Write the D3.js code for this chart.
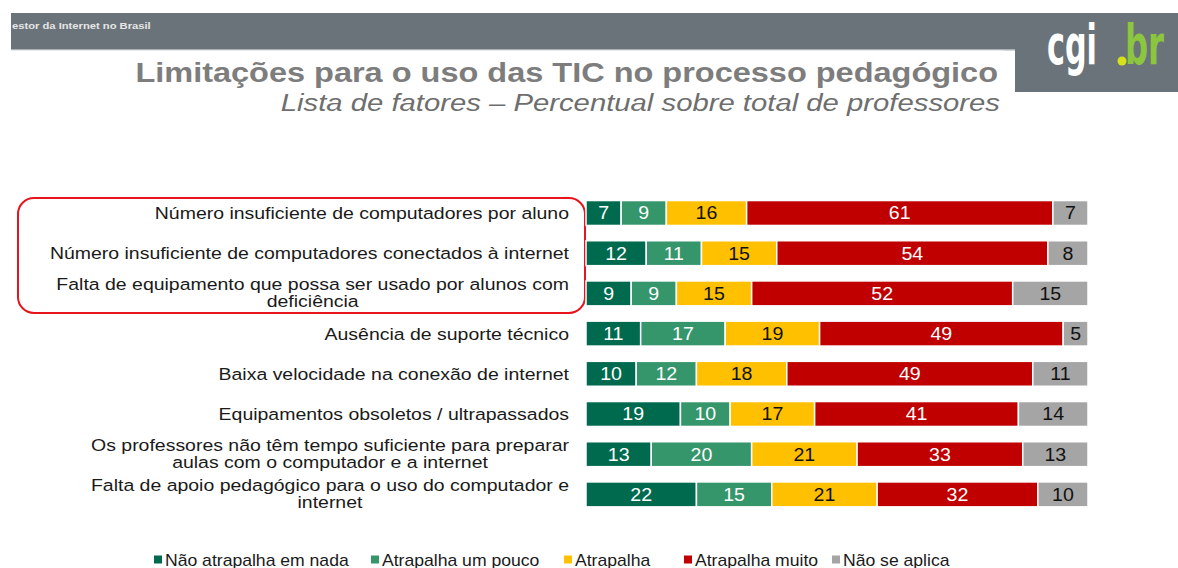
<!DOCTYPE html>
<html>
<head>
<meta charset="utf-8">
<script src="https://cdn.jsdelivr.net/npm/d3@7"></script>
<style>
  body { margin: 0; background: #fff; }
  svg { display: block; font-family: "Liberation Sans", Arial, sans-serif; }
</style>
</head>
<body>
<div id="chart-container"></div>
<script>
// data
const categories = [
  "Número insuficiente de computadores por aluno",
  "Número insuficiente de computadores conectados à internet",
  "Falta de equipamento que possa ser usado por alunos com\ndeficiência",
  "Ausência de suporte técnico",
  "Baixa velocidade na conexão de internet",
  "Equipamentos obsoletos / ultrapassados",
  "Os professores não têm tempo suficiente para preparar\naulas com o computador e a internet",
  "Falta de apoio pedagógico para o uso do computador e\ninternet"
]
const seriesNames = ["Não atrapalha em nada", "Atrapalha um pouco", "Atrapalha", "Atrapalha muito", "Não se aplica"]
const naoAtrapalha   = [7, 12, 9, 11, 10, 19, 13, 22]
const umPouco        = [9, 11, 9, 17, 12, 10, 20, 15]
const atrapalha      = [16, 15, 15, 19, 18, 17, 21, 21]
const muito          = [61, 54, 52, 49, 49, 41, 33, 32]
const naoSeAplica    = [7, 8, 15, 5, 11, 14, 13, 10]
const colors = ["#006a4e", "#35956b", "#ffc000", "#c00000", "#a5a5a5"]
const textColors = ["#fff", "#fff", "#111", "#fff", "#111"]

const W = 1178, H = 568

const svg = d3.select("#chart-container")
  .append("svg")
  .attr("width", W)
  .attr("height", H)

// the slide's text is a bit wider than Liberation Sans, so stretch it sideways
function placeText(sel, px, py, sx) {
  return sel.attr("x", 0).attr("y", 0)
    .attr("transform", `translate(${px},${py}) scale(${sx},1)`)
}

// header band
svg.append("rect").attr("x", 11).attr("y", 13).attr("width", W - 11).attr("height", 37).attr("fill", "#6b737a")
svg.append("rect").attr("x", 11).attr("y", 49).attr("width", W - 11).attr("height", 1.5).attr("fill", "#aab0b5")
svg.append("rect").attr("x", 1015).attr("y", 13).attr("width", W - 1015).attr("height", 79).attr("fill", "#6b737a")
// white tab with rounded top-right corner
svg.append("path")
  .attr("d", "M11,50.5 L1000,50.5 Q1015,50.5 1015,65 L1015,95 L11,95 Z")
  .attr("fill", "#fff")

placeText(svg.append("text"), 12, 29, 1.18)
  .attr("fill", "#e6e6e6")
  .style("font-size", "9.5px").style("font-weight", "bold")
  .text("estor da Internet no Brasil")

// cgi.br logo
const logoFont = "'DejaVu Sans Condensed', 'Liberation Sans Narrow', sans-serif"
svg.append("text")
  .attr("x", 1047).attr("y", 64)
  .attr("textLength", 50).attr("lengthAdjust", "spacingAndGlyphs")
  .style("font-family", logoFont)
  .style("font-size", "56px").style("font-weight", "bold")
  .attr("fill", "#fff")
  .text("cgi")
svg.append("text")
  .attr("x", 1125).attr("y", 64)
  .attr("textLength", 39).attr("lengthAdjust", "spacingAndGlyphs")
  .style("font-family", logoFont)
  .style("font-size", "56px").style("font-weight", "bold")
  .attr("fill", "#8cc63f")
  .text("br")
svg.append("circle").attr("cx", 1122).attr("cy", 61).attr("r", 4.5).attr("fill", "#d7e11b")

// titles
placeText(svg.append("text"), 998, 82, 1.14)
  .attr("text-anchor", "end")
  .attr("fill", "#7d7d7d")
  .style("font-size", "28.5px").style("font-weight", "bold")
  .text("Limitações para o uso das TIC no processo pedagógico")

placeText(svg.append("text"), 1000, 111, 1.22)
  .attr("text-anchor", "end")
  .attr("fill", "#6e6e6e")
  .style("font-size", "24px").style("font-style", "italic")
  .text("Lista de fatores – Percentual sobre total de professores")

// stacked data; two rows add to 101 on the slide, so each bar is scaled to its own total
const raw = [naoAtrapalha, umPouco, atrapalha, muito, naoSeAplica]
const keys = ["s0", "s1", "s2", "s3", "s4"]
const rows = categories.map((c, i) => {
  const total = d3.sum(raw, s => s[i])
  const r = { cat: c }
  keys.forEach((k, j) => { r[k] = raw[j][i] / total * 100; r["v" + j] = raw[j][i] })
  return r
})
const stacked = d3.stack().keys(keys)(rows)

const x = d3.scaleLinear().domain([0, 100]).range([586, 1088])
const y = d3.scaleBand()
  .domain(categories)
  .range([192.9, 514.5])
  .paddingInner(0.38)
  .paddingOuter(0.19)

// highlight box round first three rows
svg.append("rect")
  .attr("x", 18).attr("y", 198)
  .attr("width", 567).attr("height", 115)
  .attr("rx", 16)
  .attr("fill", "none")
  .attr("stroke", "#e8141b")
  .attr("stroke-width", 2)

// bars
const layer = svg.selectAll(".layer")
  .data(stacked)
  .enter().append("g")
  .attr("class", "layer")

layer.selectAll("rect")
  .data((d, i) => d.map(p => ({ p, i })))
  .enter().append("rect")
  .attr("x", d => x(d.p[0]))
  .attr("y", d => y(d.p.data.cat))
  .attr("width", d => x(d.p[1]) - x(d.p[0]))
  .attr("height", y.bandwidth())
  .attr("fill", d => colors[d.i])
  .attr("stroke", "#fff")
  .attr("stroke-width", 1.5)

layer.selectAll("text")
  .data((d, i) => d.map(p => ({ p, i })))
  .enter().append("text")
  .each(function (d) {
    placeText(d3.select(this), (x(d.p[0]) + x(d.p[1])) / 2, y(d.p.data.cat) + y.bandwidth() / 2, 1.12)
  })
  .attr("dy", "0.36em")
  .attr("text-anchor", "middle")
  .attr("fill", d => textColors[d.i])
  .style("font-size", "17.5px")
  .text(d => d.p.data["v" + d.i])

// row labels: first line right-aligned, second line centred under it
const labelStretch = 1.18
categories.forEach(c => {
  const lines = c.split("\n")
  const cy = y(c) + y.bandwidth() / 2
  const g = svg.append("g").style("font-size", "16.5px").attr("fill", "#1a1a1a")
  if (lines.length === 1) {
    placeText(g.append("text"), 569, cy, labelStretch).attr("dy", "0.36em")
      .attr("text-anchor", "end").text(lines[0])
  } else {
    const t1 = placeText(g.append("text"), 569, cy - 9, labelStretch).attr("dy", "0.36em")
      .attr("text-anchor", "end").text(lines[0])
    const w = t1.node().getComputedTextLength() * labelStretch
    placeText(g.append("text"), 569 - w / 2, cy + 8, labelStretch).attr("dy", "0.36em")
      .attr("text-anchor", "middle").text(lines[1])
  }
})

// legend
const legendX = [154, 371, 564, 684, 832]
const legend = svg.selectAll(".legend")
  .data(seriesNames)
  .enter().append("g")
  .attr("class", "legend")
  .attr("transform", (d, i) => `translate(${legendX[i]},560)`)

legend.append("rect")
  .attr("x", 0).attr("y", -4.5)
  .attr("width", 8).attr("height", 8)
  .attr("fill", (d, i) => colors[i])

legend.append("text")
  .attr("x", 10).attr("y", 0).attr("dy", "0.36em")
  .attr("transform", "scale(1.1,1)")
  .attr("fill", "#1a1a1a")
  .style("font-size", "16px")
  .text(d => d)
</script>
</body>
</html>
